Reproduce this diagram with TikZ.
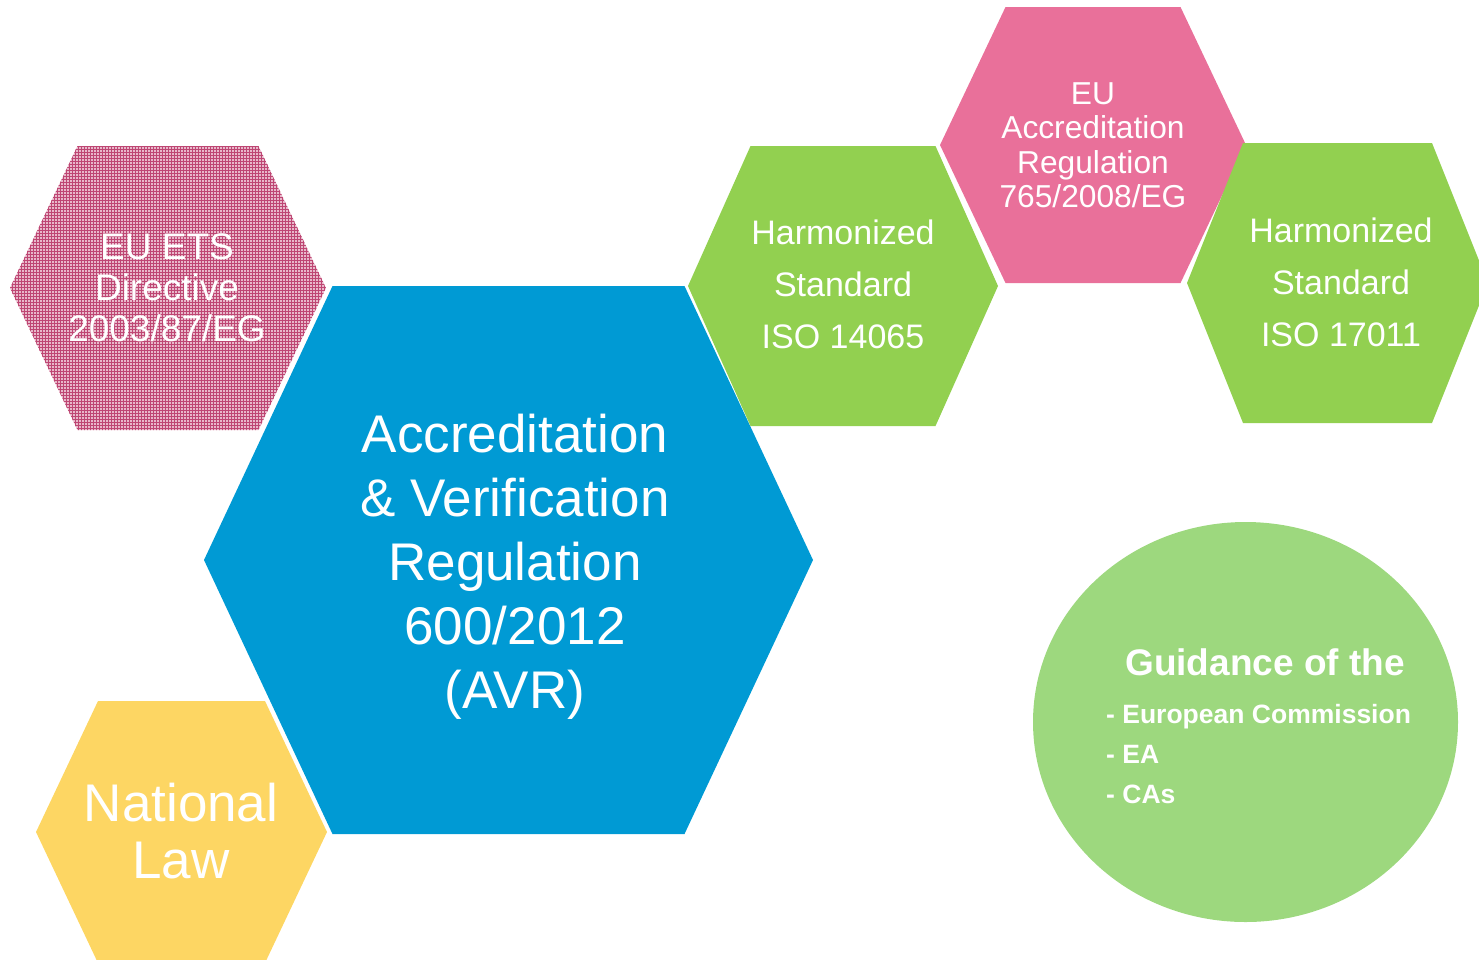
\documentclass[tikz,border=0pt]{standalone}
\usepackage{fontspec}
\setmainfont{Liberation Sans}
\usetikzlibrary{patterns}
\definecolor{avrblue}{RGB}{0,154,212}
\definecolor{isogreen}{RGB}{146,208,80}
\definecolor{eupink}{RGB}{233,112,154}
\definecolor{natyellow}{RGB}{253,214,99}
\definecolor{guidegreen}{RGB}{157,216,126}
\definecolor{etslight}{RGB}{232,184,202}
\definecolor{etsdark}{RGB}{190,70,115}
\newcommand\hexa[6]{%
  \path[#6] ({#1-#3},#2) -- ({#1-#4},{#2-#5}) -- ({#1+#4},{#2-#5}) -- ({#1+#3},#2)
    -- ({#1+#4},{#2+#5}) -- ({#1-#4},{#2+#5}) -- cycle;}
\tikzset{
  lbl/.style={text=white, align=center, inner sep=0pt},
}
\begin{document}
\begin{tikzpicture}[x=1pt,y=-1pt]
\useasboundingbox (0,0) rectangle (1479,959);
% EU ETS patterned hexagon
\hexa{168}{288}{158}{90.5}{142}{fill=etslight}
\hexa{168}{288}{158}{90.5}{142}{pattern=grid, pattern color=etsdark}
\node[lbl, font=\fontsize{37}{41}\selectfont] (ets) at (167,288) {EU ETS\\Directive\\2003/87/EG};
% National law
\hexa{181.5}{832}{145.5}{83.5}{131}{fill=natyellow}
\node[lbl, font=\fontsize{53}{57}\selectfont] (nat) at (181,831) {National\\Law};
% Main AVR
\hexa{508.5}{560}{304.5}{176}{274}{fill=avrblue}
\node[lbl, font=\fontsize{53}{64}\selectfont] (avr) at (515,567) {Accreditation\\\& Verification\\Regulation\\600/2012\\(AVR)};
% Green ISO 14065
\hexa{843}{286}{155}{92.5}{140}{fill=isogreen}
\node[lbl, font=\fontsize{34}{52}\selectfont] (iso1) at (843,284) {Harmonized\\Standard\\ISO 14065};
% Pink EU accreditation
\hexa{1093}{145}{153}{87.5}{138}{fill=eupink}
\node[lbl, font=\fontsize{31.7}{34.5}\selectfont] (eu) at (1093,145) {EU\\Accreditation\\Regulation\\765/2008/EG};
% Green ISO 17011
\hexa{1337.5}{283}{150.5}{94.5}{140}{fill=isogreen}
\node[lbl, font=\fontsize{34}{52}\selectfont] (iso2) at (1341,282) {Harmonized\\Standard\\ISO 17011};
% Guidance circle
\fill[guidegreen] (1245.5,722) ellipse [x radius=212.5, y radius=200];
\node[lbl, font=\bfseries\fontsize{37}{40}\selectfont] (guide) at (1265,662) {Guidance of the};
\node[lbl, anchor=west, align=left, font=\bfseries\fontsize{26.5}{40}\selectfont] (items) at (1106,754) {- European Commission\\- EA\\- CAs};
\end{tikzpicture}
\end{document}
